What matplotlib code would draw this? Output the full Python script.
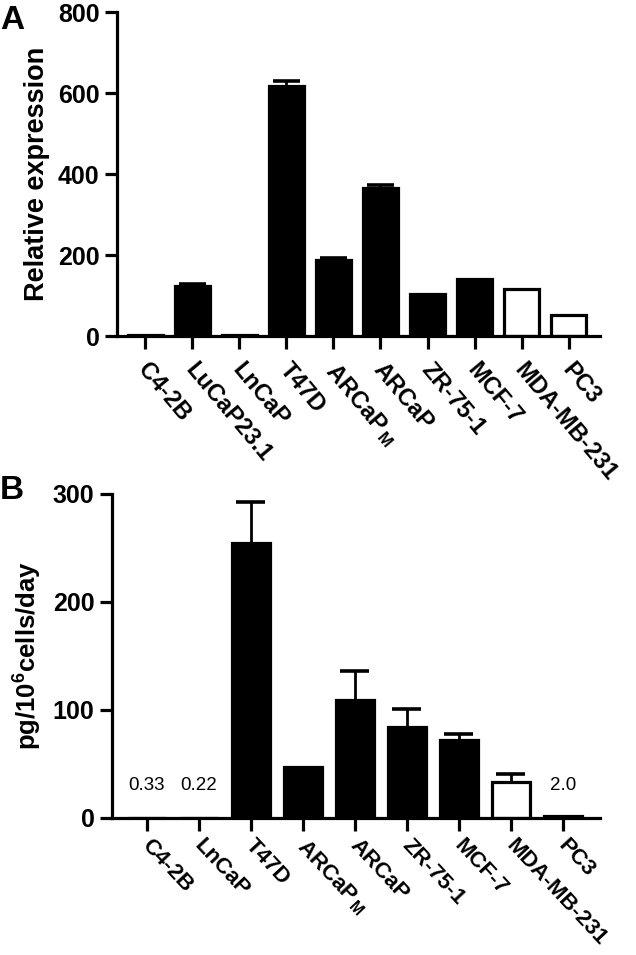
import numpy as np
import matplotlib
matplotlib.use("Agg")
import matplotlib.pyplot as plt
from matplotlib.transforms import ScaledTranslation

plt.rcParams['font.family'] = ['Liberation Sans', 'DejaVu Sans']
plt.rcParams['mathtext.fontset'] = 'custom'
plt.rcParams['mathtext.rm'] = 'Liberation Sans:bold'
plt.rcParams['mathtext.bf'] = 'Liberation Sans:bold'
plt.rcParams['mathtext.it'] = 'Liberation Sans:bold'

# panel A data
cells_a = ["C4-2B", "LuCaP23.1", "LnCaP", "T47D", r"ARCaP$\,_{\mathrm{M}}$",
           "ARCaP", "ZR-75-1", "MCF-7", "MDA-MB-231", "PC3"]
expr_a = [2, 123, 3, 617, 189, 365, 103, 142, 117, 53]
err_a = [0, 5, 0, 13, 3, 9, 0, 0, 0, 0]
open_a = [False] * 8 + [True, True]

# panel B data
cells_b = ["C4-2B", "LnCaP", "T47D", r"ARCaP$\,_{\mathrm{M}}$", "ARCaP",
           "ZR-75-1", "MCF-7", "MDA-MB-231", "PC3"]
secr_b = [0.33, 0.22, 254, 47, 109, 84, 72, 33, 2.0]
err_b = [0, 0, 38, 0, 27, 17, 6, 8, 0]
open_b = [False] * 7 + [True, False]
notes_b = {0: "0.33", 1: "0.22", 8: "2.0"}

LW = 2.3


def style_axis(ax, fig, dy):
    for s in ["top", "right"]:
        ax.spines[s].set_visible(False)
    for s in ["left", "bottom"]:
        ax.spines[s].set_linewidth(LW)
    ax.tick_params(axis="both", width=LW, length=9, direction="out")
    for lab in ax.get_yticklabels():
        lab.set_fontweight("bold")
        lab.set_fontsize(18)
    # nudge the slanted labels a bit right/down like the original
    off = ScaledTranslation(6 / 100, -dy / 100, fig.dpi_scale_trans)
    for lab in ax.get_xticklabels():
        lab.set_transform(lab.get_transform() + off)


def draw_bars(ax, vals, errs, opens, width):
    x = np.arange(len(vals))
    colors = ["white" if o else "black" for o in opens]
    ax.bar(x, vals, width=width, color=colors, edgecolor="black",
           linewidth=LW, zorder=2)
    lower = np.zeros(len(errs))
    ax.errorbar(x, vals, yerr=[lower, errs], fmt="none", ecolor="black",
                elinewidth=2, capsize=0, zorder=1)
    for xi, v, e in zip(x, vals, errs):
        if e > 0:
            ax.plot([xi - width * 0.38, xi + width * 0.38], [v + e, v + e],
                    color="black", lw=2.6, solid_capstyle="butt", zorder=1)
    return x


fig = plt.figure(figsize=(6.36, 9.55), dpi=100)

# ---- panel A
axA = fig.add_axes([0.184, 0.648, 0.759, 0.339])
x = draw_bars(axA, expr_a, err_a, open_a, 0.75)
axA.set_xlim(-0.6, 9.66)
axA.set_ylim(0, 800)
axA.set_yticks([0, 200, 400, 600, 800])
axA.set_xticks(x)
axA.set_xticklabels(cells_a, rotation=-50, ha="left", va="top",
                    rotation_mode="anchor", fontsize=17, fontweight="bold")
style_axis(axA, fig, 5)
axA.set_ylabel("Relative expression", fontsize=19.5, fontweight="bold",
               labelpad=6)
fig.text(0.0, 0.995, "A", fontsize=24, fontweight="bold", va="top")

# ---- panel B
axB = fig.add_axes([0.176, 0.1435, 0.767, 0.3395])
x = draw_bars(axB, secr_b, err_b, open_b, 0.73)
axB.set_xlim(-0.67, 8.71)
axB.set_ylim(0, 300)
axB.set_yticks([0, 100, 200, 300])
axB.set_xticks(x)
axB.set_xticklabels(cells_b, rotation=-47, ha="left", va="top",
                    rotation_mode="anchor", fontsize=16, fontweight="bold")
style_axis(axB, fig, 0)
axB.set_ylabel(r"pg/10$^{6}$cells/day", fontsize=18.5, fontweight="bold",
               labelpad=6)
for i, txt in notes_b.items():
    axB.text(i, 22, txt, ha="center", va="bottom", fontsize=13.5)
fig.text(0.0, 0.503, "B", fontsize=24, fontweight="bold", va="top")

fig.savefig("out.png", dpi=100)
